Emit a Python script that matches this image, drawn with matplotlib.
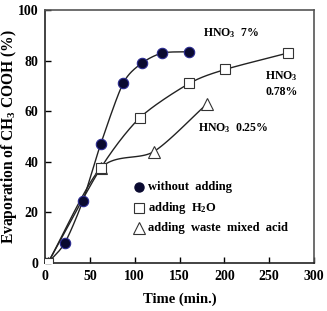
import numpy as np
import matplotlib
matplotlib.use("Agg")
import matplotlib.pyplot as plt

# Data
t_none = [3, 22, 42, 62, 87, 108, 131, 161]
y_none = [0, 8, 24.5, 47, 71, 79, 83, 83.5]
t_h2o = [3, 62, 106, 161, 201, 271]
y_h2o = [0, 37.5, 57.5, 71, 76.5, 83]
t_acid = [3, 62, 121, 181]
y_acid = [0, 37.5, 44, 63]

labels = ["without  adding", "adding  H$_2$O", "adding  waste  mixed  acid"]
xticks = [0, 50, 100, 150, 200, 250, 300]
yticks = [0, 20, 40, 60, 80, 100]

plt.rcParams['font.family'] = ['Liberation Serif', 'DejaVu Serif']
plt.rcParams['font.weight'] = 'bold'
plt.rcParams['mathtext.fontset'] = 'custom'
plt.rcParams['mathtext.rm'] = 'Liberation Serif:bold'
plt.rcParams['mathtext.it'] = 'Liberation Serif:bold'


def smooth(x, y, n=30, tension=0.5):
    x = np.asarray(x, float); y = np.asarray(y, float)
    px = np.concatenate([[2 * x[0] - x[1]], x, [2 * x[-1] - x[-2]]])
    py = np.concatenate([[2 * y[0] - y[1]], y, [2 * y[-1] - y[-2]]])
    xs, ys = [], []
    for i in range(1, len(px) - 2):
        p0, p1, p2, p3 = [np.array([px[j], py[j]]) for j in (i - 1, i, i + 1, i + 2)]
        c1 = p1 + (p2 - p0) * tension / 3
        c2 = p2 - (p3 - p1) * tension / 3
        s = np.linspace(0, 1, n)[:, None]
        b = (1 - s) ** 3 * p1 + 3 * (1 - s) ** 2 * s * c1 + 3 * (1 - s) * s ** 2 * c2 + s ** 3 * p2
        xs.extend(b[:, 0]); ys.extend(b[:, 1])
    return xs, ys


fig = plt.figure(figsize=(3.27, 3.11), dpi=100)
ax = fig.add_axes([0.138, 0.154, 0.822, 0.814])

for tx, ty in [(t_none, y_none), (t_h2o, y_h2o), (t_acid, y_acid)]:
    sx, sy = smooth(tx, ty, tension=0.4)
    ax.plot(sx, sy, color='#222222', lw=1.0, zorder=2)

ax.plot(t_acid, y_acid, ls='none', marker='^', ms=9, mfc='white', mec='#333333', mew=0.8, zorder=3)
ax.plot(t_h2o, y_h2o, ls='none', marker='s', ms=7.5, mfc='white', mec='#333333', mew=0.8, zorder=3)
ax.plot(t_none[1:], y_none[1:], ls='none', marker='o', ms=7.5, mfc='#0a0a30', mec='#2a2a90', mew=0.8, zorder=4)

# legend (manual)
ly = [30, 21.8, 13.9]
ax.plot([105], [ly[0]], marker='o', ms=6.5, mfc='#0a0a30', mec='#0a0a30', ls='none')
ax.plot([105], [ly[1]], marker='s', ms=7, mfc='white', mec='#333333', mew=0.8, ls='none')
ax.plot([105], [ly[2]], marker='^', ms=8, mfc='white', mec='#333333', mew=0.8, ls='none')
for yy, lab in zip(ly, labels):
    ax.text(115, yy, lab, fontsize=9, fontweight='bold', va='center', ha='left')

ax.text(207, 91, "HNO$_3$  7%", fontsize=8.5, fontweight='bold', ha='center', va='center')
ax.text(264, 74, "HNO$_3$", fontsize=8.5, fontweight='bold', ha='center', va='center')
ax.text(264, 67.5, "0.78%", fontsize=8.5, fontweight='bold', ha='center', va='center')
ax.text(210, 53.5, "HNO$_3$  0.25%", fontsize=8.5, fontweight='bold', ha='center', va='center')

ax.set_xlim(0, 300)
ax.set_ylim(0, 100)
ax.set_xticks(xticks)
ax.set_yticks(yticks)
ax.tick_params(direction='in', length=4, width=1, labelsize=10, pad=5)
for lab in ax.get_xticklabels() + ax.get_yticklabels():
    lab.set_fontweight('bold')
for s in ['left', 'bottom']:
    ax.spines[s].set_color('#222222'); ax.spines[s].set_linewidth(1.2)
for s in ['top', 'right']:
    ax.spines[s].set_color('#555555'); ax.spines[s].set_linewidth(1.2)

ax.set_xlabel("Time (min.)", fontsize=10.5, fontweight='bold')
ax.xaxis.set_label_coords(0.5, -0.118)
ax.set_ylabel("Evaporation of CH$_3$ COOH (%)", fontsize=11.2, fontweight='bold')
ax.yaxis.set_label_coords(-0.098, 0.5)

fig.savefig("out.png", dpi=100)
